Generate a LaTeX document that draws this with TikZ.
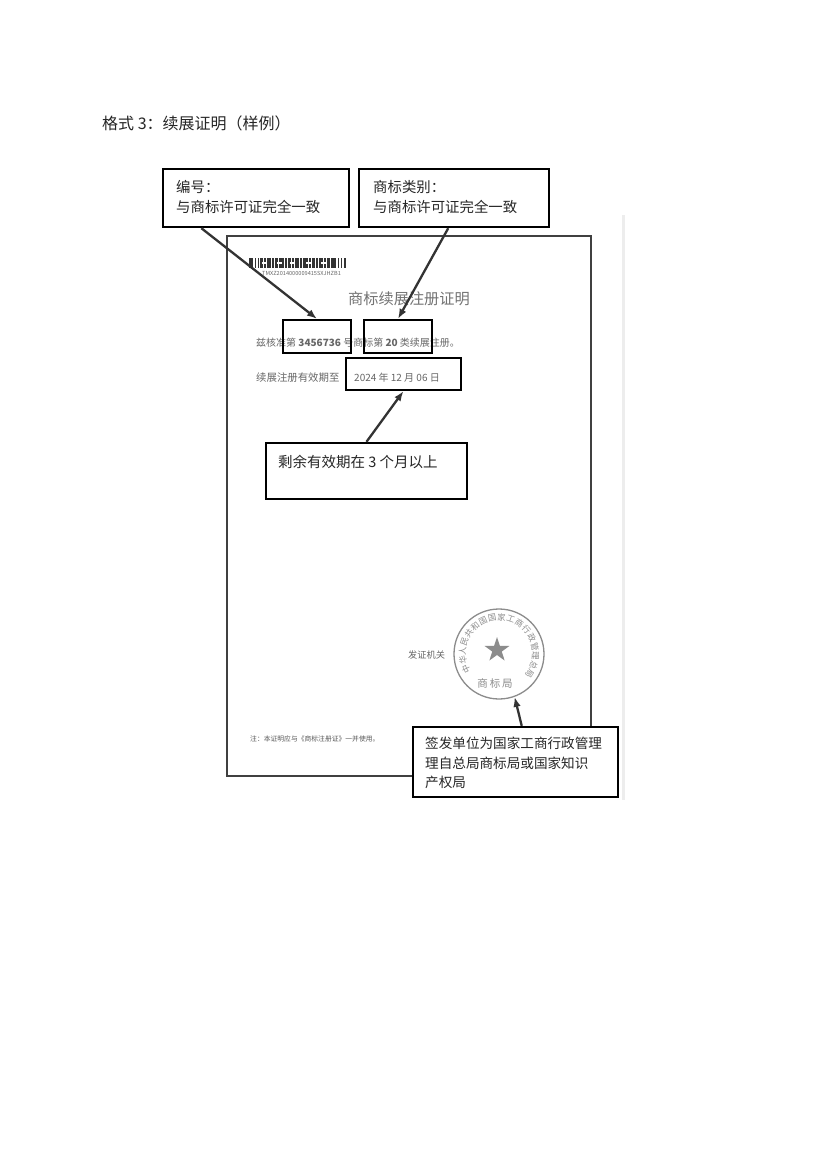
\documentclass[tikz,border=0pt]{standalone}
\usepackage{fontspec}
\setmainfont{Noto Sans CJK SC}
\usetikzlibrary{arrows.meta,shapes.geometric,calc}
\begin{document}
\begin{tikzpicture}[x=1pt,y=-1pt,
  callout/.style={draw=black, line width=2.4pt, fill=white, inner sep=0pt},
  mark box/.style={draw=black, line width=2.2pt, inner sep=0pt},
  arr/.style={draw=black!80, line width=2.3pt, -{Latex[length=10pt,width=7.5pt]}},
  cert/.style={text=black!60, inner sep=0pt, anchor=west},
  lbl/.style={inner sep=0pt, anchor=west, text=black!85},
  stampc/.style={text=black!45, inner sep=0pt}]
\useasboundingbox (0,0) rectangle (827,1169);
\fill[white] (0,0) rectangle (827,1169);
% faint scan edge
\draw[black!7, line width=3pt] (623,215) -- (623,800);

% title
\node[lbl, font=\fontsize{16}{18}\selectfont] (title) at (102,123) {格式 3：续展证明（样例）};

% certificate frame
\node[draw=black!75, line width=1.8pt, minimum width=364pt, minimum height=540pt, inner sep=0pt] (certf) at (409,506) {};

% barcode
\foreach \xa/\w in {249/4,255/1.2,257.5/1.2,260/3,264/2,267/4,272/1.5,275/3,279/5,285/2,288/3,292/1.5,295/4,300/2,303/5,309/2,312/3,316/1.5,319/4,324/2,327/3,331/5,338/1.2,341/1.2,344/1.5}
  \fill[black!80] (\xa,258) rectangle ++(\w,10);
\foreach \xa in {262,277,290,306,321}
  \fill[white] (\xa,262) rectangle ++(5,1.5);
\node[cert, font=\fontsize{5.6}{6}\selectfont] (bc) at (262,273) {TMXZ2014000009415SXJHZB1};

% certificate title and content
\node[cert, text=black!55, font=\fontsize{15.2}{16}\selectfont] (ctitle) at (348,299) {商标续展注册证明};
\node[cert, font=\fontsize{10}{11}\selectfont] (line1) at (256,343) {兹核准第 \textbf{3456736} 号商标第 \textbf{20} 类续展注册。};
\node[cert, font=\fontsize{10.4}{11}\selectfont] (line2) at (256,378) {续展注册有效期至};
\node[cert, font=\fontsize{10}{11}\selectfont] (date) at (354,378) {2024 年 12 月 06 日};

% marking boxes
\node[mark box, minimum width=68pt, minimum height=33pt] (boxA) at (317,336.5) {};
\node[mark box, minimum width=68pt, minimum height=33pt] (boxB) at (398,336.5) {};
\node[mark box, minimum width=115pt, minimum height=32pt] (boxC) at (403.5,374) {};

% stamp
\node[circle, draw=black!45, line width=1.3pt, minimum size=90pt, inner sep=0pt] (stamp) at (499,654) {};
\node[star, star points=5, star point ratio=2.6, fill=black!45, minimum size=26pt, inner sep=0pt] (star) at (497,650) {};
\node[stampc, font=\fontsize{10.5}{11}\selectfont] (sbj) at (495,683) {商\hspace{2pt}标\hspace{2pt}局};
\begin{scope}[shift={(stamp.center)}, y=1pt]
  \foreach \c [count=\i] in {中,华,人,民,共,和,国,国,家,工,商,行,政,管,理,总,局} {
    \pgfmathsetmacro\ang{205-(\i-1)*14.875}
    \node[stampc, rotate=\ang-90, font=\fontsize{8.3}{9}\selectfont] (ring\i) at (\ang:36.5) {\c};
  }
\end{scope}
\node[cert, font=\fontsize{9.2}{10}\selectfont] (fzjg) at (408,655) {发证机关};
\node[cert, text=black!65, font=\fontsize{6.8}{7}\selectfont] (note) at (250,739) {注：本证明应与《商标注册证》一并使用。};

% callout boxes
\node[callout, minimum width=186pt, minimum height=58pt] (box1) at (256,198) {};
\node[lbl, font=\fontsize{14.4}{16}\selectfont] (t1a) at (176,187) {编号：};
\node[lbl, font=\fontsize{14.4}{16}\selectfont] (t1b) at (176,207) {与商标许可证完全一致};

\node[callout, minimum width=190pt, minimum height=58pt] (box2) at (454,198) {};
\node[lbl, font=\fontsize{14.4}{16}\selectfont] (t2a) at (373,187) {商标类别：};
\node[lbl, font=\fontsize{14.4}{16}\selectfont] (t2b) at (373,207) {与商标许可证完全一致};

\node[callout, minimum width=201pt, minimum height=56pt] (box4) at (366.5,471) {};
\node[lbl, font=\fontsize{14.5}{16}\selectfont] (t4) at (278,462) {剩余有效期在 3 个月以上};

\node[callout, minimum width=205pt, minimum height=70pt] (box5) at (515.5,762) {};
\node[lbl, font=\fontsize{13.6}{15}\selectfont] (t5a) at (425,743) {签发单位为国家工商行政管理};
\node[lbl, font=\fontsize{13.6}{15}\selectfont] (t5b) at (425,763) {理自总局商标局或国家知识};
\node[lbl, font=\fontsize{13.6}{15}\selectfont] (t5c) at (425,782) {产权局};

% arrows
\draw[arr] ($(box1.south west)!0.21!(box1.south east)$) -- (boxA.north);
\draw[arr] ($(box2.south west)!0.47!(box2.south east)$) -- (boxB.north);
\draw[arr] (box4.north) -- (boxC.south);
\draw[arr] ($(box5.north west)!0.53!(box5.north east)$) -- (stamp.-70);
\end{tikzpicture}
\end{document}
